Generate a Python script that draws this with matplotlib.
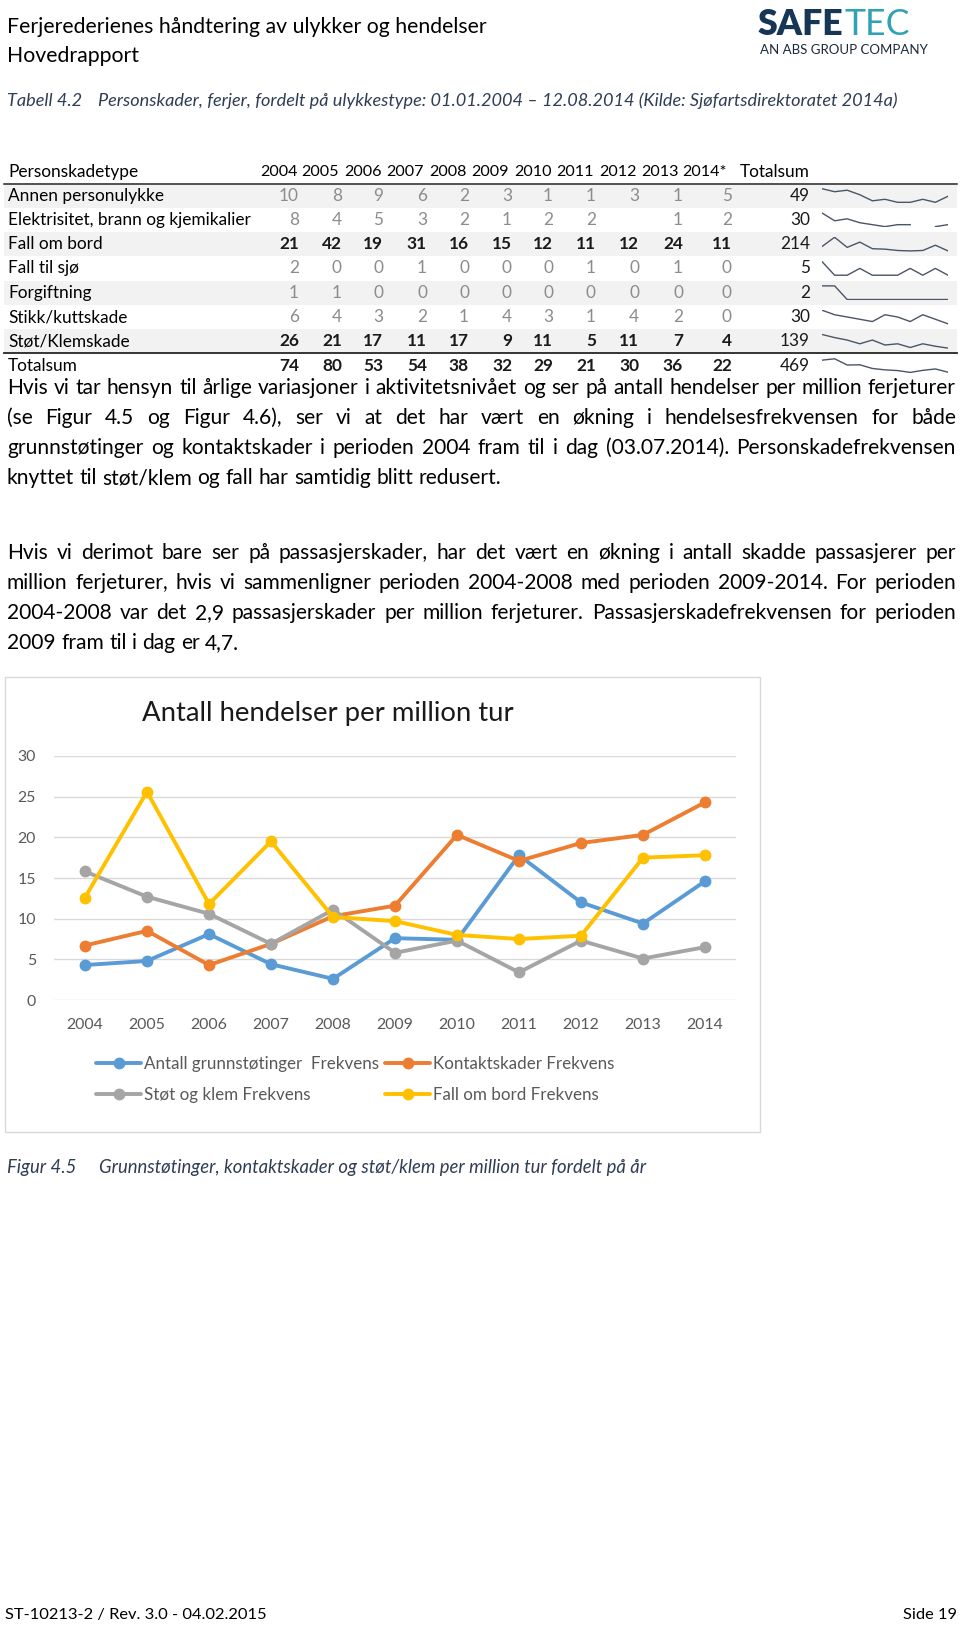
import matplotlib
matplotlib.use('Agg')
import matplotlib.pyplot as plt
import numpy as np

plt.rcParams['font.family'] = ['Lato', 'DejaVu Sans']

W, H = 960, 1629

# --- table data (Tabell 4.2) ---
table_years = ['2004', '2005', '2006', '2007', '2008', '2009', '2010', '2011', '2012', '2013', '2014*']
row_names = ['Annen personulykke', 'Elektrisitet, brann og kjemikalier', 'Fall om bord',
             'Fall til sjø', 'Forgiftning', 'Stikk/kuttskade', 'Støt/Klemskade', 'Totalsum']
row_values = [
    [10, 8, 9, 6, 2, 3, 1, 1, 3, 1, 5],
    [8, 4, 5, 3, 2, 1, 2, 2, None, 1, 2],
    [21, 42, 19, 31, 16, 15, 12, 11, 12, 24, 11],
    [2, 0, 0, 1, 0, 0, 0, 1, 0, 1, 0],
    [1, 1, 0, 0, 0, 0, 0, 0, 0, 0, 0],
    [6, 4, 3, 2, 1, 4, 3, 1, 4, 2, 0],
    [26, 21, 17, 11, 17, 9, 11, 5, 11, 7, 4],
    [74, 80, 53, 54, 38, 32, 29, 21, 30, 36, 22],
]
row_totals = [49, 30, 214, 5, 2, 30, 139, 469]
bold_rows = ['Fall om bord', 'Støt/Klemskade', 'Totalsum']

# --- chart data (Figur 4.5) ---
years = [2004, 2005, 2006, 2007, 2008, 2009, 2010, 2011, 2012, 2013, 2014]
grunn = [4.3, 4.8, 8.1, 4.4, 2.6, 7.6, 7.4, 17.8, 12.0, 9.4, 14.6]
kontakt = [6.7, 8.5, 4.3, 6.9, 10.3, 11.6, 20.3, 17.1, 19.3, 20.3, 24.3]
stot = [15.8, 12.7, 10.6, 6.9, 11.1, 5.8, 7.3, 3.4, 7.3, 5.1, 6.5]
fall = [12.6, 25.6, 11.8, 19.5, 10.2, 9.7, 8.0, 7.5, 7.9, 17.5, 17.8]
series_names = ['Antall grunnstøtinger  Frekvens', 'Kontaktskader Frekvens',
                'Støt og klem Frekvens', 'Fall om bord Frekvens']
colors = ['#5b9bd5', '#ed7d31', '#a5a5a5', '#ffc000']

para1 = ['Hvis vi tar hensyn til årlige variasjoner i aktivitetsnivået og ser på antall hendelser per million ferjeturer',
         '(se Figur 4.5 og Figur 4.6), ser vi at det har vært en økning i hendelsesfrekvensen for både',
         'grunnstøtinger og kontaktskader i perioden 2004 fram til i dag (03.07.2014). Personskadefrekvensen',
         'knyttet til støt/klem og fall har samtidig blitt redusert.']
para2 = ['Hvis vi derimot bare ser på passasjerskader, har det vært en økning i antall skadde passasjerer per',
         'million ferjeturer, hvis vi sammenligner perioden 2004-2008 med perioden 2009-2014. For perioden',
         '2004-2008 var det 2,9 passasjerskader per million ferjeturer. Passasjerskadefrekvensen for perioden',
         '2009 fram til i dag er 4,7.']

fig = plt.figure(figsize=(W / 100, H / 100), dpi=100)
page = fig.add_axes([0, 0, 1, 1])
page.set_xlim(0, W)
page.set_ylim(H, 0)
page.axis('off')
renderer = fig.canvas.get_renderer()


def width_of(t):
    return t.get_window_extent(renderer).width


def fit(txt, x, y, width, **kw):
    t = page.text(x, y, txt, fontsize=10, **kw)
    t.set_fontsize(10 * width / width_of(t))
    return t


def size_for(txt, width, **kw):
    t = page.text(0, 0, txt, fontsize=10, **kw)
    s = 10 * width / width_of(t)
    t.remove()
    return s


def justify(line, y, fs, x0=7, x1=956, last=False, **kw):
    words = line.split(' ')
    ts = [page.text(0, y, w, fontsize=fs, va='center', **kw) for w in words]
    ws = [width_of(t) for t in ts]
    if last or len(words) == 1:
        a = page.text(0, 0, 'a a', fontsize=fs)
        b = page.text(0, 0, 'aa', fontsize=fs)
        gap = width_of(a) - width_of(b)
        a.remove(); b.remove()
    else:
        gap = (x1 - x0 - sum(ws)) / (len(words) - 1)
    x = x0
    for t, w in zip(ts, ws):
        t.set_x(x)
        x += w + gap


# --- page header ---
hdr_fs = size_for('Ferjerederienes håndtering av ulykker og hendelser', 480)
page.text(7, 27, 'Ferjerederienes håndtering av ulykker og hendelser', fontsize=hdr_fs, va='center')
page.text(7, 56, 'Hovedrapport', fontsize=hdr_fs, va='center')

logo = fit('SAFE', 758, 35, 86, fontweight='heavy', color='#163655', va='baseline')
page.text(758 + width_of(logo) + 1, 35, 'TEC', fontsize=logo.get_fontsize(), fontweight='normal',
          color='#2fa2b6', va='baseline')
fit('AN ABS GROUP COMPANY', 760, 50, 166, color='#1b2a3a', va='center')

cap_col = '#2f3d55'
cap_fs = size_for('Personskader, ferjer, fordelt på ulykkestype: 01.01.2004 – 12.08.2014 (Kilde: Sjøfartsdirektoratet 2014a)',
                  802, style='italic')
page.text(7, 101, 'Tabell 4.2', fontsize=cap_fs, style='italic', color=cap_col, va='center')
page.text(98, 101, 'Personskader, ferjer, fordelt på ulykkestype: 01.01.2004 – 12.08.2014 (Kilde: Sjøfartsdirektoratet 2014a)',
          fontsize=cap_fs, style='italic', color=cap_col, va='center')

# --- table ---
col_right = [299, 342, 383, 427, 469, 512, 553, 596, 639, 683, 732]
head_right = [298, 339, 382, 424, 467, 509, 552, 594, 637, 679, 727]
tot_right = 810
row_y0, row_h = 195.5, 24.3
tab_fs = size_for('Elektrisitet, brann og kjemikalier', 244)
head_fs = tab_fs * 0.93

page.text(8, 172, 'Personskadetype', fontsize=tab_fs, va='center')
for xr, yr in zip(head_right, table_years):
    page.text(xr, 172, yr, fontsize=head_fs, va='center', ha='right')
page.text(tot_right, 172, 'Totalsum', fontsize=tab_fs, va='center', ha='right')
page.plot([4, 957], [183.5, 183.5], color='#262626', lw=1.1)

for i, (name, vals, tot) in enumerate(zip(row_names, row_values, row_totals)):
    yc = row_y0 + i * row_h
    if i % 2 == 0 and name != 'Totalsum':
        page.add_patch(plt.Rectangle((4, yc - row_h / 2), 953, row_h, color='#f2f2f2', lw=0, zorder=0))
    page.text(8, yc, name, fontsize=tab_fs, va='center')
    bold = name in bold_rows
    for xr, v in zip(col_right, vals):
        if v is None:
            continue
        page.text(xr, yc, str(v), fontsize=tab_fs, va='center', ha='right',
                  color='#1a1a1a' if bold else '#8c8c8c', fontweight='bold' if bold else 'normal')
    page.text(tot_right, yc, str(tot), fontsize=tab_fs, va='center', ha='right', color='#1a1a1a')
    # sparkline
    sp = fig.add_axes([822 / W, 1 - (yc + 7.5) / H, 126 / W, 15 / H])
    sv = np.array([np.nan if v is None else v for v in vals], dtype=float)
    sp.plot(np.arange(len(sv)), sv, color='#4a5566', lw=1.0)
    sp.set_xlim(0, len(sv) - 1)
    sp.margins(y=0.05)
    sp.axis('off')
page.plot([4, 957], [353, 353], color='#262626', lw=1.3)

# --- paragraphs ---
p_fs = min(size_for(para1[3], 505), size_for(para1[0], 945))
for k, line in enumerate(para1):
    justify(line, 388 + k * 30, p_fs, last=(k == len(para1) - 1))
for k, line in enumerate(para2):
    justify(line, 553 + k * 30, p_fs, last=(k == len(para2) - 1))

# --- chart ---
page.add_patch(plt.Rectangle((5, 677), 755, 455, fill=False, ec='#d9d9d9', lw=1))
fit('Antall hendelser per million tur', 142, 713, 372, va='center', color='#1a1a1a')

ax = fig.add_axes([54 / W, 1 - 1000 / H, (736 - 54) / W, (1000 - 756) / H])
ax.set_facecolor('none')
x = np.arange(len(years))
lines = []
for vals, col, lab in zip([grunn, kontakt, stot, fall], colors, series_names):
    ln, = ax.plot(x, vals, color=col, lw=2.8, marker='o', ms=7.5, label=lab,
                  solid_joinstyle='round', solid_capstyle='round', clip_on=False)
    lines.append(ln)
ax.set_xlim(-0.5, len(years) - 0.5)
ax.set_ylim(0, 30)
ax.set_yticks(range(0, 31, 5))
ax.set_xticks(x, [str(y) for y in years])
ax.grid(axis='y', color='#d9d9d9', lw=1)
ax.set_axisbelow(True)
for s in ax.spines.values():
    s.set_visible(False)
tick_fs = size_for('2004', 37)
ax.tick_params(length=0, colors='#595959', labelsize=tick_fs)
ax.tick_params(axis='y', pad=13)
ax.tick_params(axis='x', pad=13)

leg_fs = size_for('Kontaktskader Frekvens', 182)
em = leg_fs * 100 / 72
ax.legend([lines[0], lines[2], lines[1], lines[3]],
          [series_names[0], series_names[2], series_names[1], series_names[3]],
          ncol=2, loc='upper left', bbox_to_anchor=(96 / W, 1 - 1056 / H), bbox_transform=fig.transFigure,
          frameon=False, fontsize=leg_fs, handlelength=45 / em, handletextpad=3 / em,
          columnspacing=6 / em, labelspacing=15 / em, borderpad=0, borderaxespad=0, labelcolor='#595959')

f_fs = size_for('Grunnstøtinger, kontaktskader og støt/klem per million tur fordelt på år', 549, style='italic')
page.text(7, 1168, 'Figur 4.5', fontsize=f_fs, style='italic', color=cap_col, va='center')
page.text(99, 1168, 'Grunnstøtinger, kontaktskader og støt/klem per million tur fordelt på år',
          fontsize=f_fs, style='italic', color=cap_col, va='center')

# --- footer ---
ft_fs = size_for('ST-10213-2 / Rev. 3.0 - 04.02.2015', 261)
page.text(5, 1615, 'ST-10213-2 / Rev. 3.0 - 04.02.2015', fontsize=ft_fs, va='center')
page.text(957, 1615, 'Side 19', fontsize=ft_fs, va='center', ha='right')

fig.savefig('out.png', dpi=100)
